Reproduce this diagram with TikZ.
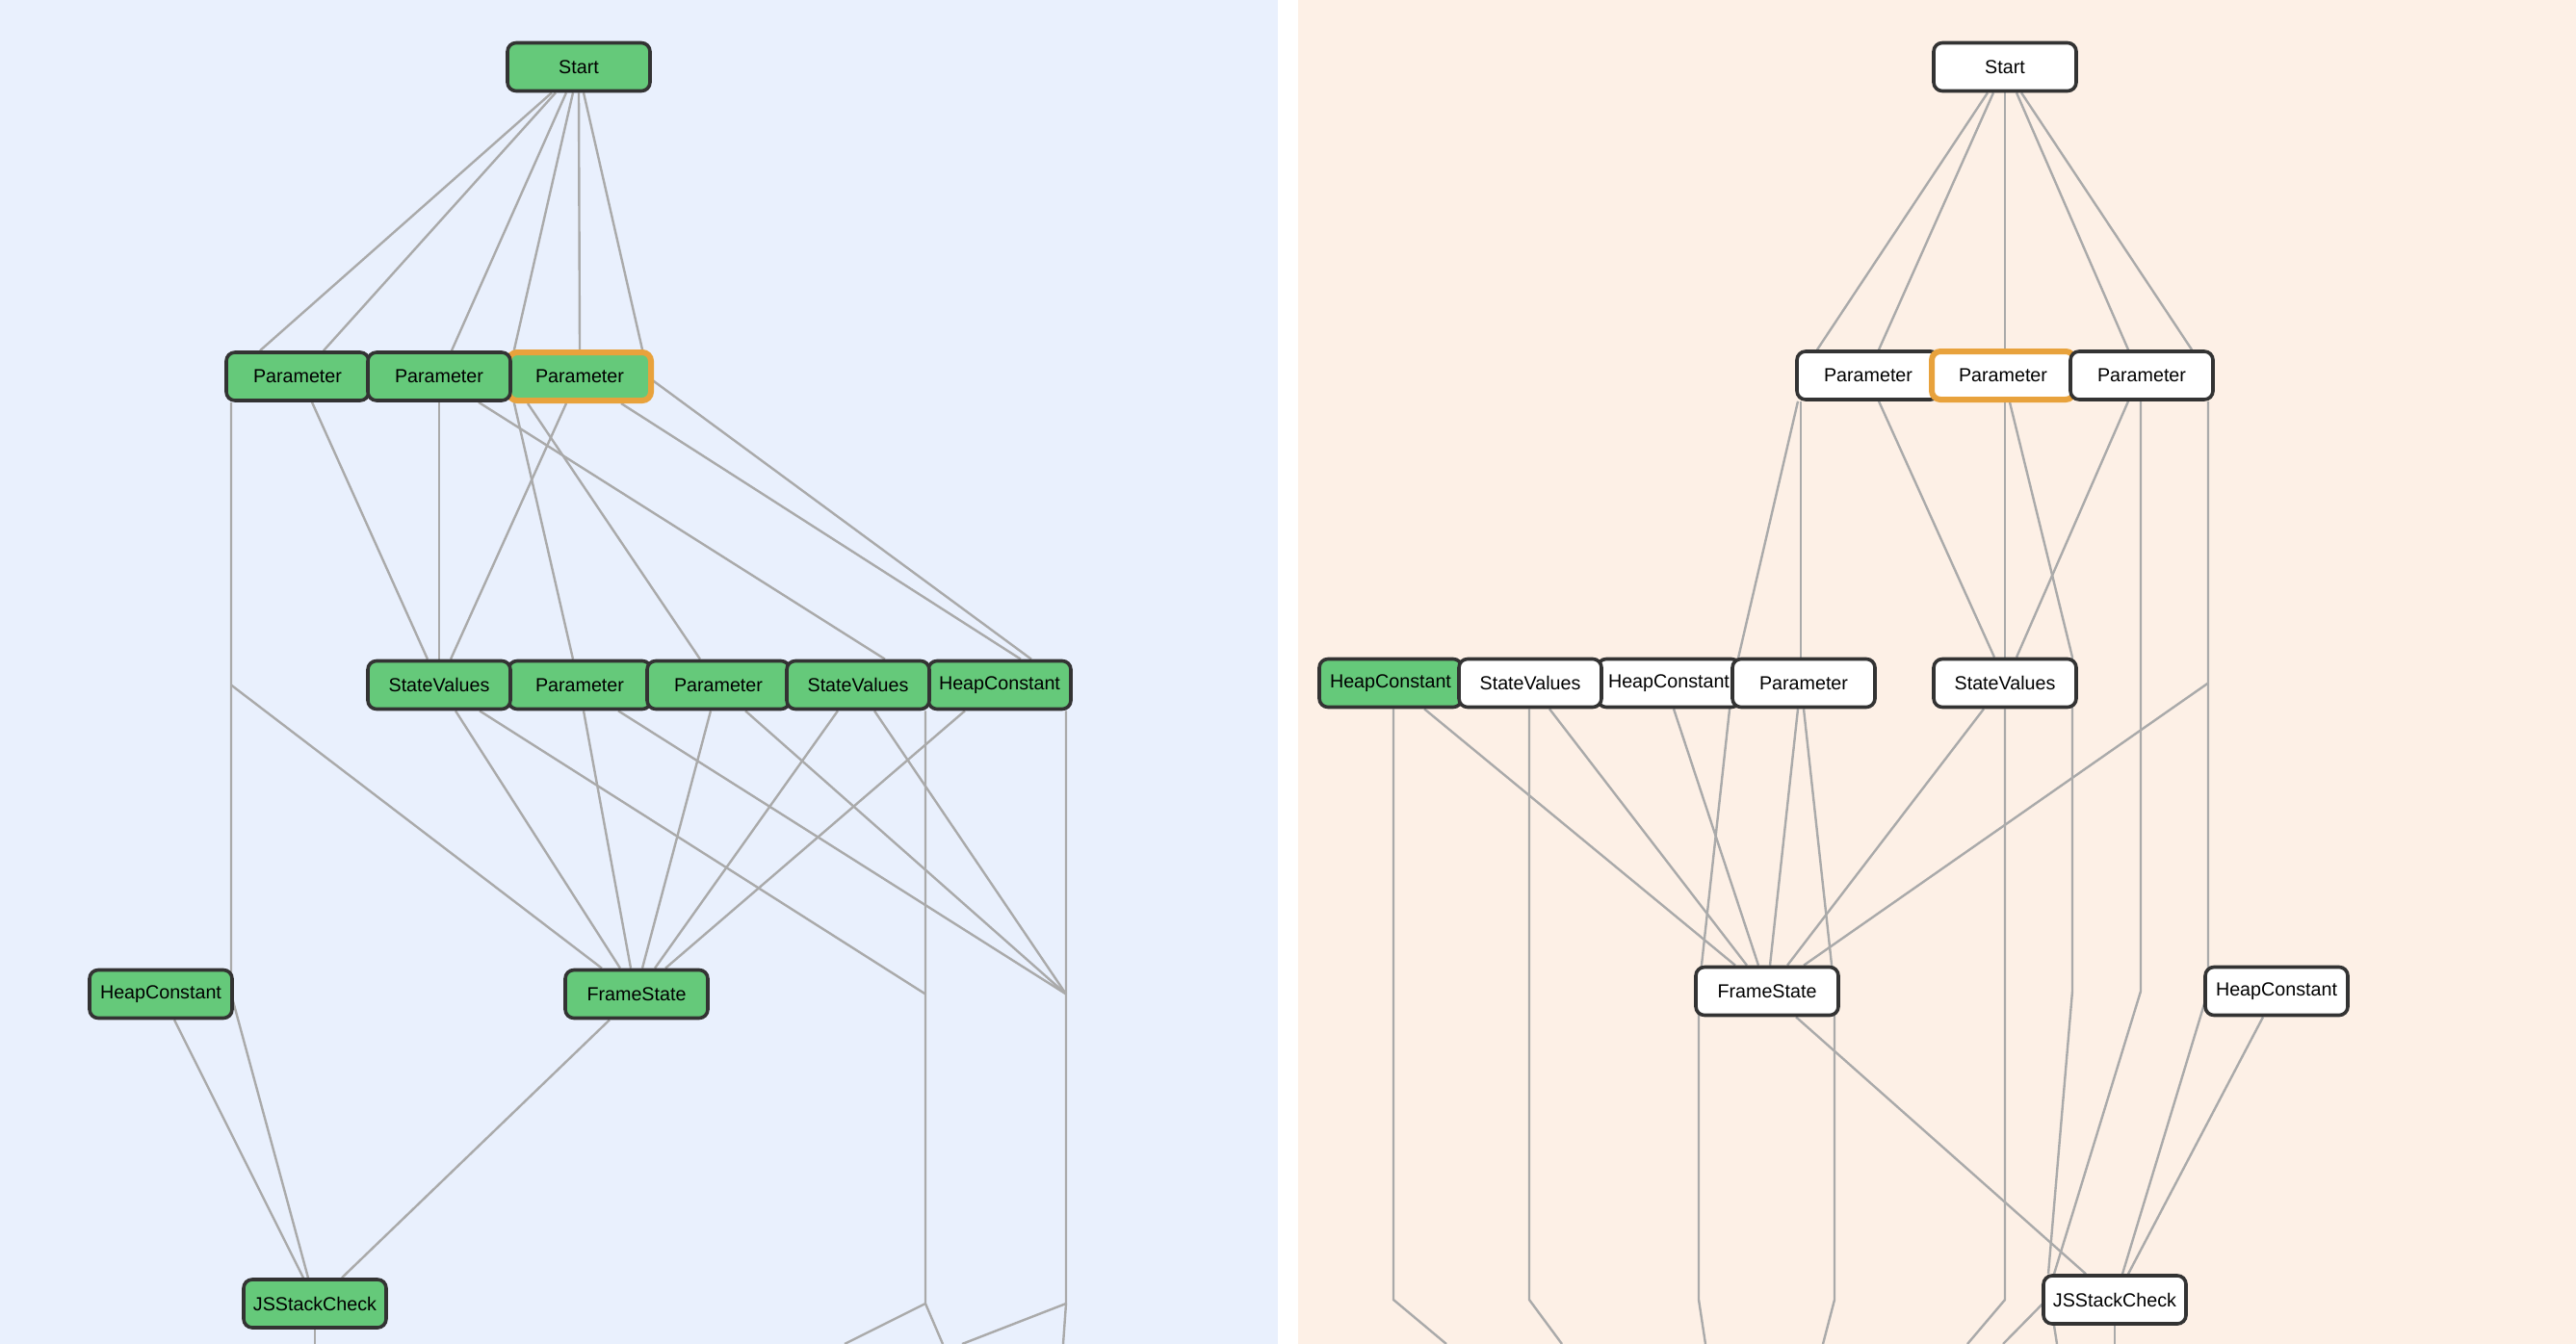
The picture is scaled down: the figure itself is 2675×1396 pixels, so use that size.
\documentclass[tikz,border=0pt]{standalone}
\usepackage{fontspec}
\setmainfont{Liberation Sans}
\usetikzlibrary{calc}
\pgfdeclarelayer{back}
\pgfdeclarelayer{wires}
\pgfsetlayers{back,wires,main}
\definecolor{leftbg}{HTML}{E9F0FD}
\definecolor{rightbg}{HTML}{FDF0E6}
\definecolor{livegreen}{HTML}{65C97A}
\definecolor{selorange}{HTML}{E8A23C}
\definecolor{boxline}{HTML}{333333}
\definecolor{wiregray}{HTML}{AAAAAA}

\begin{document}
\begin{tikzpicture}[x=0.5pt,y=-0.5pt,
op/.style={draw=boxline, line width=1.8pt, rounded corners=4.5pt, fill=white, minimum width=74pt, minimum height=25pt, inner xsep=2pt, font=\fontsize{9.85}{12}\selectfont},
live/.style={op, fill=livegreen},
sel/.style={draw=selorange, line width=3pt},
wire/.style={draw=wiregray, line width=1.2pt}
]
\useasboundingbox (0,0) rectangle (2675,1396);

% left graph
\node[live] (lStart) at (601,69.5) {Start};
\node[live] (lP1) at (309,391) {Parameter};
\node[live,sel] (lP3) at (602,391) {Parameter};
\node[live] (lP2) at (456,391) {Parameter};
\node[live] (lP4) at (602,711.5) {Parameter};
\node[live] (lP5) at (746,711.5) {Parameter};
\node[live] (lHC1) at (1038,711.5) {HeapConstant};
\node[live] (lSV1) at (456,711.5) {StateValues};
\node[live] (lSV2) at (891,711.5) {StateValues};
\node[live] (lHC2) at (167,1032.5) {HeapConstant};
\node[live] (lFS) at (661,1032.5) {FrameState};
\node[live] (lJS) at (327,1354) {JSStackCheck};

% right graph
\node[op] (rStart) at (2082,69.5) {Start};
\node[op] (rP1) at (1940,390) {Parameter};
\node[op,sel] (rP2) at (2080,390) {Parameter};
\node[op] (rP3) at (2224,390) {Parameter};
\node[live] (rHC1) at (1444,709.5) {HeapConstant};
\node[op] (rHC2) at (1733,709.5) {HeapConstant};
\node[op] (rSV1) at (1589,709.5) {StateValues};
\node[op] (rP4) at (1873,709.5) {Parameter};
\node[op] (rSV2) at (2082,709.5) {StateValues};
\node[op] (rFS) at (1835,1029.5) {FrameState};
\node[op] (rHC3) at (2364,1029.5) {HeapConstant};
\node[op] (rJS) at (2196,1350) {JSStackCheck};

\coordinate (lk1) at (240,711.5);
\coordinate (lk2) at (240,1032.5);
\coordinate (lk3) at (961,1032.5);
\coordinate (lk4) at (1107,1032.5);
\coordinate (lk5) at (961,1354);
\coordinate (lk6) at (1107,1354);
\coordinate (lo1) at (877,1396);
\coordinate (lo2) at (979,1396);
\coordinate (lo3) at (999,1396);
\coordinate (lo4) at (1104,1396);
\coordinate (lo5) at (327,1396);

\coordinate (rk1) at (1799,709.5);
\coordinate (rk2) at (2152,1029.5);
\coordinate (rk3) at (2223,1029.5);
\coordinate (rk4) at (2293,709.5);
\coordinate (rk5) at (2293,1029.5);
\coordinate (rk6) at (1905,1029.5);
\coordinate (rk7) at (1905,1350);
\coordinate (rk8) at (1764,1029.5);
\coordinate (rk9) at (1764,1350);
\coordinate (rk10) at (1447,1350);
\coordinate (rk11) at (1588,1350);
\coordinate (rk12) at (2082,1350);
\coordinate (ro1) at (1502,1396);
\coordinate (ro2) at (1622,1396);
\coordinate (ro3) at (1771,1396);
\coordinate (ro4) at (1893,1396);
\coordinate (ro5) at (2043,1396);
\coordinate (ro6) at (2080,1396);
\coordinate (ro7) at (2136,1396);
\coordinate (ro8) at (2196,1396);

\begin{pgfonlayer}{back}
\fill[white] (0,0) rectangle (2675,1396);
\fill[leftbg] (0,0) rectangle (1327,1396);
\fill[rightbg] (1348,0) rectangle (2675,1396);
\end{pgfonlayer}

\begin{pgfonlayer}{wires}
\draw[wire] ($(lStart.south)+(-28,0)$) -- ($(lP1.north)+(-39,0)$);
\draw[wire] ($(lStart.south)+(-24,0)$) -- ($(lP1.north)+(27,0)$);
\draw[wire] ($(lStart.south)+(-13,0)$) -- ($(lP2.north)+(13,0)$);
\draw[wire] ($(lStart.south)+(-6,0)$) -- ($(lP3.north)+(-68,0)$) -- ($(lP3.south)+(-68,0)$) -- ($(lP4.north)+(-7,0)$);
\draw[wire] (lStart.south) -- (lP3.north);
\draw[wire] ($(lStart.south)+(5,0)$) -- ($(lP3.north)+(65,0)$) -- ($(lP3.center)+(58,-9)$) -- ($(lHC1.north)+(33,0)$);

\draw[wire] ($(lP1.south)+(-69,0)$) -- (lk1) -- (lk2) -- ($(lJS.north)+(-7,0)$);
\draw[wire] (lk1) -- ($(lFS.north)+(-36,0)$);
\draw[wire] ($(lP1.south)+(15,0)$) -- ($(lSV1.north)+(-12,0)$);
\draw[wire] (lP2.south) -- (lSV1.north);
\draw[wire] ($(lP3.south)+(-14,0)$) -- ($(lSV1.north)+(12,0)$);
\draw[wire] ($(lP2.south)+(41,0)$) -- ($(lSV2.north)+(28,0)$);
\draw[wire] ($(lP3.south)+(-54,0)$) -- ($(lP5.north)+(-19,0)$);
\draw[wire] ($(lP3.south)+(43,0)$) -- ($(lHC1.north)+(22,0)$);

\draw[wire] ($(lSV1.south)+(17,0)$) -- ($(lFS.north)+(-17,0)$);
\draw[wire] ($(lSV1.south)+(42,0)$) -- (lk3);
\draw[wire] ($(lP4.south)+(4,0)$) -- ($(lFS.north)+(-6,0)$);
\draw[wire] ($(lP4.south)+(40,0)$) -- (lk4);
\draw[wire] ($(lP5.south)+(-8,0)$) -- ($(lFS.north)+(6,0)$);
\draw[wire] ($(lP5.south)+(28,0)$) -- (lk4);
\draw[wire] ($(lSV2.south)+(-21,0)$) -- ($(lFS.north)+(19,0)$);
\draw[wire] ($(lSV2.south)+(17,0)$) -- (lk4);
\draw[wire] ($(lHC1.south)+(-36,0)$) -- ($(lFS.north)+(30,0)$);
\draw[wire] ($(lHC1.south)+(-77,0)$) -- (lk5) -- (lo1);
\draw[wire] (lk5) -- (lo2);
\draw[wire] ($(lHC1.south)+(69,0)$) -- (lk6) -- (lo3);
\draw[wire] (lk6) -- (lo4);

\draw[wire] ($(lHC2.south)+(14,0)$) -- ($(lJS.north)+(-12,0)$);
\draw[wire] ($(lFS.south)+(-28,0)$) -- ($(lJS.north)+(28,0)$);
\draw[wire] (lJS.south) -- (lo5);

\draw[wire] ($(rStart.south)+(-18,0)$) -- ($(rP1.north)+(-53,0)$);
\draw[wire] ($(rStart.south)+(-12,0)$) -- ($(rP1.north)+(11,0)$);
\draw[wire] (rStart.south) -- ($(rP2.north)+(2,0)$);
\draw[wire] ($(rStart.south)+(12,0)$) -- ($(rP3.north)+(-14,0)$);
\draw[wire] ($(rStart.south)+(17,0)$) -- ($(rP3.north)+(52,0)$);

\draw[wire] ($(rP1.south)+(-73,0)$) -- (rk1) -- (rk8) -- (rk9) -- (ro3);
\draw[wire] ($(rP1.south)+(-70,0)$) -- ($(rP4.north)+(-3,0)$);
\draw[wire] ($(rP1.south)+(11,0)$) -- ($(rSV2.north)+(-11,0)$);
\draw[wire] ($(rP2.south)+(2,0)$) -- (rSV2.north);
\draw[wire] ($(rP2.south)+(7,0)$) -- ($(rSV2.north)+(70,0)$) -- (rk2) -- ($(rJS.north)+(-69,0)$);
\draw[wire] ($(rP3.south)+(-14,0)$) -- ($(rSV2.north)+(12,0)$);
\draw[wire] ($(rP3.south)+(-1,0)$) -- (rk3) -- ($(rJS.north)+(-63,0)$);
\draw[wire] ($(rP3.south)+(69,0)$) -- (rk4) -- (rk5) -- ($(rJS.north)+(8,0)$);
\draw[wire] (rk4) -- ($(rFS.north)+(38,0)$);

\draw[wire] ($(rHC1.south)+(3,0)$) -- (rk10) -- (ro1);
\draw[wire] ($(rHC1.south)+(35,0)$) -- ($(rFS.north)+(-33,0)$);
\draw[wire] ($(rSV1.south)+(-1,0)$) -- (rk11) -- (ro2);
\draw[wire] ($(rSV1.south)+(20,0)$) -- ($(rFS.north)+(-21,0)$);
\draw[wire] ($(rHC2.south)+(5,0)$) -- ($(rFS.north)+(-9,0)$);
\draw[wire] ($(rP4.south)+(-6,0)$) -- ($(rFS.north)+(3,0)$);
\draw[wire] (rP4.south) -- (rk6) -- (rk7) -- (ro4);
\draw[wire] ($(rSV2.south)+(-22,0)$) -- ($(rFS.north)+(21,0)$);
\draw[wire] (rSV2.south) -- (rk12) -- (ro5);

\draw[wire] ($(rFS.south)+(30,0)$) -- ($(rJS.north)+(-30,0)$);
\draw[wire] ($(rHC3.south)+(-14,0)$) -- ($(rJS.north)+(14,0)$);
\draw[wire] ($(rJS.center)+(-56,-15)$) -- (ro6);
\draw[wire] ($(rJS.south)+(-63,0)$) -- (ro7);
\draw[wire] (rJS.south) -- (ro8);
\end{pgfonlayer}
\end{tikzpicture}
\end{document}
